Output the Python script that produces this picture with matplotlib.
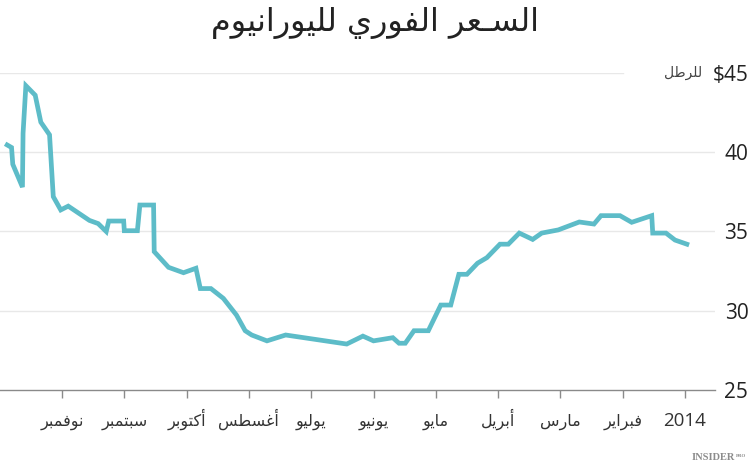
import matplotlib
matplotlib.use('Agg')
import matplotlib.pyplot as plt
import matplotlib.transforms as mtransforms

# ---------------- data ----------------
# x: months elapsed since 1 Jan 2014 (0 = 2014/Jan, 10 = Nov); axis runs right-to-left
months = [-0.03, 0.16, 0.305, 0.518, 0.534, 0.856, 1.043, 1.348, 1.461, 1.697,
          2.034, 2.30, 2.445, 2.66, 2.836, 2.97, 3.18, 3.33, 3.50, 3.63,
          3.76, 3.92, 4.12, 4.35, 4.49, 4.59, 4.69, 5.00, 5.17, 5.43,
          6.41, 6.71, 6.955, 7.06, 7.20, 7.41, 7.61, 7.78, 7.85, 8.05,
          8.29, 8.52, 8.53, 8.75, 8.79, 9.00, 9.01, 9.25, 9.29, 9.42,
          9.56, 9.90, 10.02, 10.14, 10.20, 10.34, 10.43, 10.58, 10.625, 10.635,
          10.79, 10.81, 10.88]
prices = [34.2, 34.46, 34.9, 34.9, 36.0, 35.58, 36.0, 36.0, 35.47, 35.6,
          35.1, 34.9, 34.5, 34.9, 34.2, 34.2, 33.35, 33.0, 32.3, 32.3,
          30.36, 30.36, 28.74, 28.74, 27.95, 27.95, 28.3, 28.1, 28.4, 27.9,
          28.47, 28.1, 28.47, 28.74, 29.73, 30.78, 31.4, 31.4, 32.68, 32.4,
          32.74, 33.73, 36.67, 36.67, 35.05, 35.05, 35.66, 35.66, 35.0, 35.5,
          35.7, 36.6, 36.36, 37.2, 41.1, 41.9, 43.6, 44.2, 41.2, 37.8,
          39.24, 40.3, 40.46]
x_tick_pos = [0, 1, 2, 3, 4, 5, 6, 7, 8, 9, 10]
x_tick_labels = ['2014', 'فبراير', 'مارس', 'أبريل', 'مايو', 'يونيو', 'يوليو',
                 'أغسطس', 'أكتوبر', 'سبتمبر', 'نوفمبر']
y_ticks = [25, 30, 35, 40, 45]
y_tick_labels = ['25', '30', '35', '40', '$45']
title_text = 'السـعر الفوري لليورانيوم'
unit_text = 'للرطل'

# ---------------- minimal Arabic shaping ----------------
DUAL = {'\u0626': 0xFE89, '\u0628': 0xFE8F, '\u062A': 0xFE95, '\u062B': 0xFE99,
        '\u062C': 0xFE9D, '\u062D': 0xFEA1, '\u062E': 0xFEA5, '\u0633': 0xFEB1,
        '\u0634': 0xFEB5, '\u0635': 0xFEB9, '\u0636': 0xFEBD, '\u0637': 0xFEC1,
        '\u0638': 0xFEC5, '\u0639': 0xFEC9, '\u063A': 0xFECD, '\u0641': 0xFED1,
        '\u0642': 0xFED5, '\u0643': 0xFED9, '\u0644': 0xFEDD, '\u0645': 0xFEE1,
        '\u0646': 0xFEE5, '\u0647': 0xFEE9, '\u064A': 0xFEF1}
RIGHT = {'\u0622': 0xFE81, '\u0623': 0xFE83, '\u0624': 0xFE85, '\u0625': 0xFE87,
         '\u0627': 0xFE8D, '\u0629': 0xFE93, '\u062F': 0xFEA9, '\u0630': 0xFEAB,
         '\u0631': 0xFEAD, '\u0632': 0xFEAF, '\u0648': 0xFEED, '\u0649': 0xFEEF}
LAMALEF = {'\u0622': 0xFEF5, '\u0623': 0xFEF7, '\u0625': 0xFEF9, '\u0627': 0xFEFB}
TATWEEL = '\u0640'


def is_arabic(s):
    return any('\u0600' <= ch <= '\u06FF' or '\uFE70' <= ch <= '\uFEFF' for ch in s)


def shape(text):
    toks = []
    i = 0
    while i < len(text):
        c = text[i]
        if c == '\u0644' and i + 1 < len(text) and text[i + 1] in LAMALEF:
            toks.append(('LA', LAMALEF[text[i + 1]]))
            i += 2
        else:
            toks.append(('C', c))
            i += 1

    def joins_next(t):
        return t[0] == 'C' and (t[1] in DUAL or t[1] == TATWEEL)

    def joins_prev(t):
        return t[0] == 'LA' or t[1] in DUAL or t[1] in RIGHT or t[1] == TATWEEL

    out = []
    for k, t in enumerate(toks):
        p = k > 0 and joins_next(toks[k - 1]) and joins_prev(t)
        n = k + 1 < len(toks) and joins_next(t) and joins_prev(toks[k + 1])
        if t[0] == 'LA':
            out.append(chr(t[1] + (1 if p else 0)))
        elif t[1] in DUAL:
            base = DUAL[t[1]]
            if p and n:
                out.append(chr(base + 3))
            elif p:
                out.append(chr(base + 1))
            elif n:
                out.append(chr(base + 2))
            else:
                out.append(chr(base))
        elif t[1] in RIGHT:
            out.append(chr(RIGHT[t[1]] + (1 if p else 0)))
        else:
            out.append(t[1])
    s = ''.join(out)
    if is_arabic(s):
        s = s[::-1]
    return s


# ---------------- figure ----------------
W, H = 750, 463
fig = plt.figure(figsize=(7.5, 4.63), dpi=100)
ax = fig.add_axes([0, 1 - 390 / H, 715 / W, (390 - 73) / H])
px_per_month = 62.3
ax.set_xlim(685 / px_per_month, -30 / px_per_month)
ax.set_ylim(25, 45)

grid_c = '#e8e8e8'
for yv in y_ticks[1:-1]:
    ax.axhline(yv, color=grid_c, lw=1, zorder=1)
ax.axhline(y_ticks[-1], xmin=0, xmax=623 / 715, color=grid_c, lw=1, zorder=1)

ax.plot(months, prices, color='#5dbcc8', lw=3.4, solid_joinstyle='miter',
        zorder=3, clip_on=False)

for s in ['top', 'left', 'right']:
    ax.spines[s].set_visible(False)
ax.spines['bottom'].set_color('#8a8a8a')
ax.spines['bottom'].set_linewidth(1)

ax.set_xticks(x_tick_pos)
ax.set_xticklabels([shape(t) for t in x_tick_labels])
ax.tick_params(axis='x', length=6, width=1, color='#8a8a8a', pad=20,
               labelsize=11.5, labelcolor='#333333')
for lbl, raw in zip(ax.get_xticklabels(), x_tick_labels):
    lbl.set_verticalalignment('baseline')
    if is_arabic(raw):
        lbl.set_fontfamily(['DejaVu Sans'])
    else:
        lbl.set_fontfamily(['Open Sans', 'DejaVu Sans'])
        lbl.set_fontsize(13.5)

ax.yaxis.tick_right()
ax.set_yticks(y_ticks)
ax.set_yticklabels(y_tick_labels)
ax.tick_params(axis='y', length=0, pad=24, labelsize=15, labelcolor='#222222')
for lbl in ax.get_yticklabels():
    lbl.set_horizontalalignment('right')
    lbl.set_fontfamily(['Open Sans', 'DejaVu Sans'])

trans = mtransforms.blended_transform_factory(ax.transAxes, ax.transData)
ax.text(702 / 715, 45, shape(unit_text), transform=trans, ha='right', va='center',
        fontsize=10, color='#444444', family=['DejaVu Sans'])

fig.text(0.5, 1 - 23 / H, shape(title_text), ha='center', va='center',
         fontsize=23, color='#222222', family=['DejaVu Sans'])

fig.text(735 / W, 1 - 458 / H, 'INSIDER', ha='right', va='center', fontsize=7.5,
         family=['Liberation Serif'], weight='bold', color='#8c8c8c')
fig.text(736 / W, 1 - 456 / H, 'PRO', ha='left', va='center', fontsize=3.5,
         family=['Liberation Serif'], weight='bold', color='#8c8c8c')

fig.savefig('out.png', dpi=100)
